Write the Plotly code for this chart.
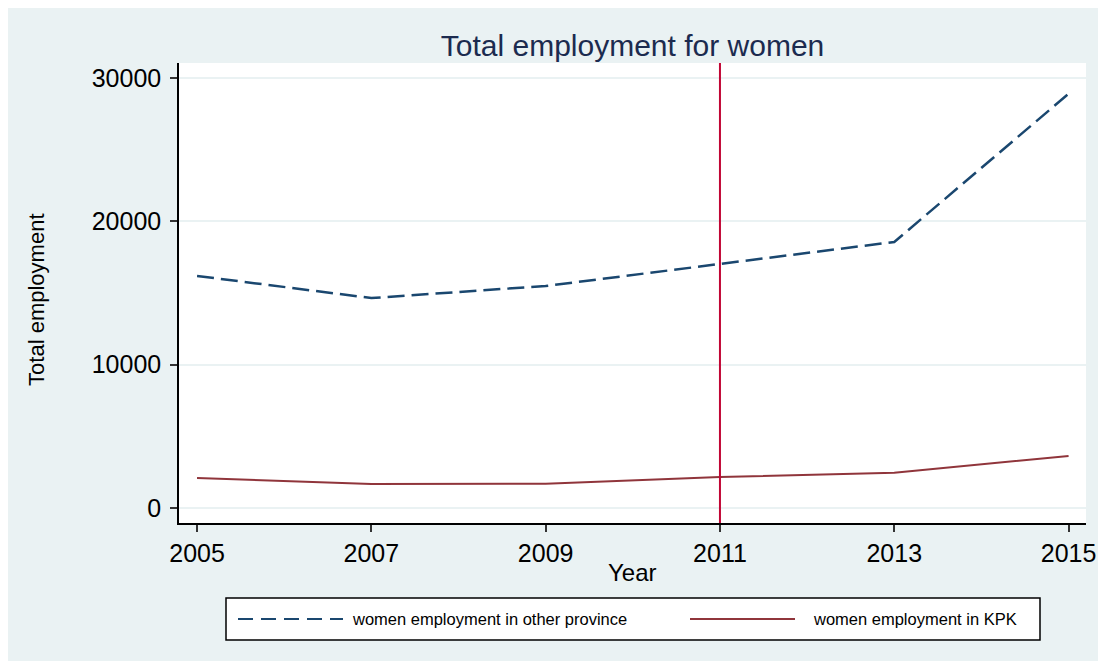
import plotly.graph_objects as go

years = [2005, 2007, 2009, 2011, 2013, 2015]
other_province = [16190, 14650, 15490, 17030, 18560, 28900]
kpk = [2090, 1680, 1700, 2160, 2460, 3630]
policy_year = 2011
y_ticks = [0, 10000, 20000, 30000]
x_ticks = [2005, 2007, 2009, 2011, 2013, 2015]

W, H = 1092, 653
L, R, T, B = 171, 14, 55, 138
PW, PH = W - L - R, H - T - B

def px(x):
    return (x - L) / PW

def py(y):
    return (T + PH - y) / PH

FONT = "Liberation Sans, Arial, sans-serif"
NAVY = "#1a476f"
MAROON = "#90353b"
CRAN = "#c10534"
BG = "#eaf2f3"

fig = go.Figure()
fig.add_trace(go.Scatter(x=years, y=other_province, mode="lines",
                         name="women employment in other province",
                         line=dict(color=NAVY, width=2.5, dash="17px,7px")))
fig.add_trace(go.Scatter(x=years, y=kpk, mode="lines",
                         name="women employment in KPK",
                         line=dict(color=MAROON, width=2)))

fig.add_vline(x=policy_year, line=dict(color=CRAN, width=2))

shapes = [
    dict(type="rect", xref="paper", yref="paper",
         x0=px(218), x1=px(1032), y0=py(590), y1=py(632),
         line=dict(color="black", width=1.5), fillcolor="white", layer="below"),
    dict(type="line", xref="paper", yref="paper",
         x0=px(230), x1=px(335), y0=py(611), y1=py(611),
         line=dict(color=NAVY, width=2, dash="15px,8px")),
    dict(type="line", xref="paper", yref="paper",
         x0=px(682), x1=px(787), y0=py(611), y1=py(611),
         line=dict(color=MAROON, width=2)),
]
for s in shapes:
    fig.add_shape(**s)

annotations = [
    dict(text="women employment in other province", x=px(342), y=py(611),
         xanchor="left", yanchor="middle"),
    dict(text="women employment in KPK", x=px(803), y=py(611),
         xanchor="left", yanchor="middle"),
]
for a in annotations:
    fig.add_annotation(xref="paper", yref="paper", showarrow=False,
                       font=dict(family=FONT, size=16.5, color="black"), **a)

fig.add_annotation(text="Year", xref="paper", yref="paper", x=0.5, y=py(564),
                   xanchor="center", yanchor="middle", showarrow=False,
                   font=dict(family=FONT, size=24, color="black"))
fig.add_annotation(text="Total employment", xref="paper", yref="paper",
                   x=px(29), y=0.485, textangle=-90,
                   xanchor="center", yanchor="middle", showarrow=False,
                   font=dict(family=FONT, size=22, color="black"))

fig.update_layout(
    width=W, height=H,
    margin=dict(l=L, r=R, t=T, b=B, pad=0, autoexpand=False),
    paper_bgcolor=BG, plot_bgcolor="white",
    showlegend=False,
    title=dict(text="Total employment for women", x=0.5, xref="paper",
               y=1 - 37 / H, yref="container", xanchor="center", yanchor="middle",
               font=dict(family=FONT, size=30, color="#1c2b4f")),
    font=dict(family=FONT, color="black"),
)
fig.update_xaxes(range=[2004.793, 2015.2], tickvals=x_ticks,
                 ticktext=[str(v) for v in x_ticks],
                 showgrid=False, zeroline=False, automargin=False,
                 showline=True, linecolor="black", linewidth=1.5,
                 ticks="outside", ticklen=7, tickwidth=1.5, tickcolor="#333",
                 tickfont=dict(family=FONT, size=25, color="black"))
fig.update_yaxes(range=[-1047, 31047], tickvals=y_ticks,
                 ticktext=[str(v) for v in y_ticks],
                 showgrid=True, gridcolor=BG, gridwidth=2, zeroline=False,
                 automargin=False,
                 showline=True, linecolor="black", linewidth=1.5,
                 ticks="outside", ticklen=7, tickwidth=1.5, tickcolor="#333",
                 ticklabelstandoff=4,
                 tickfont=dict(family=FONT, size=25, color="black"))

fig.write_html("out.html")
